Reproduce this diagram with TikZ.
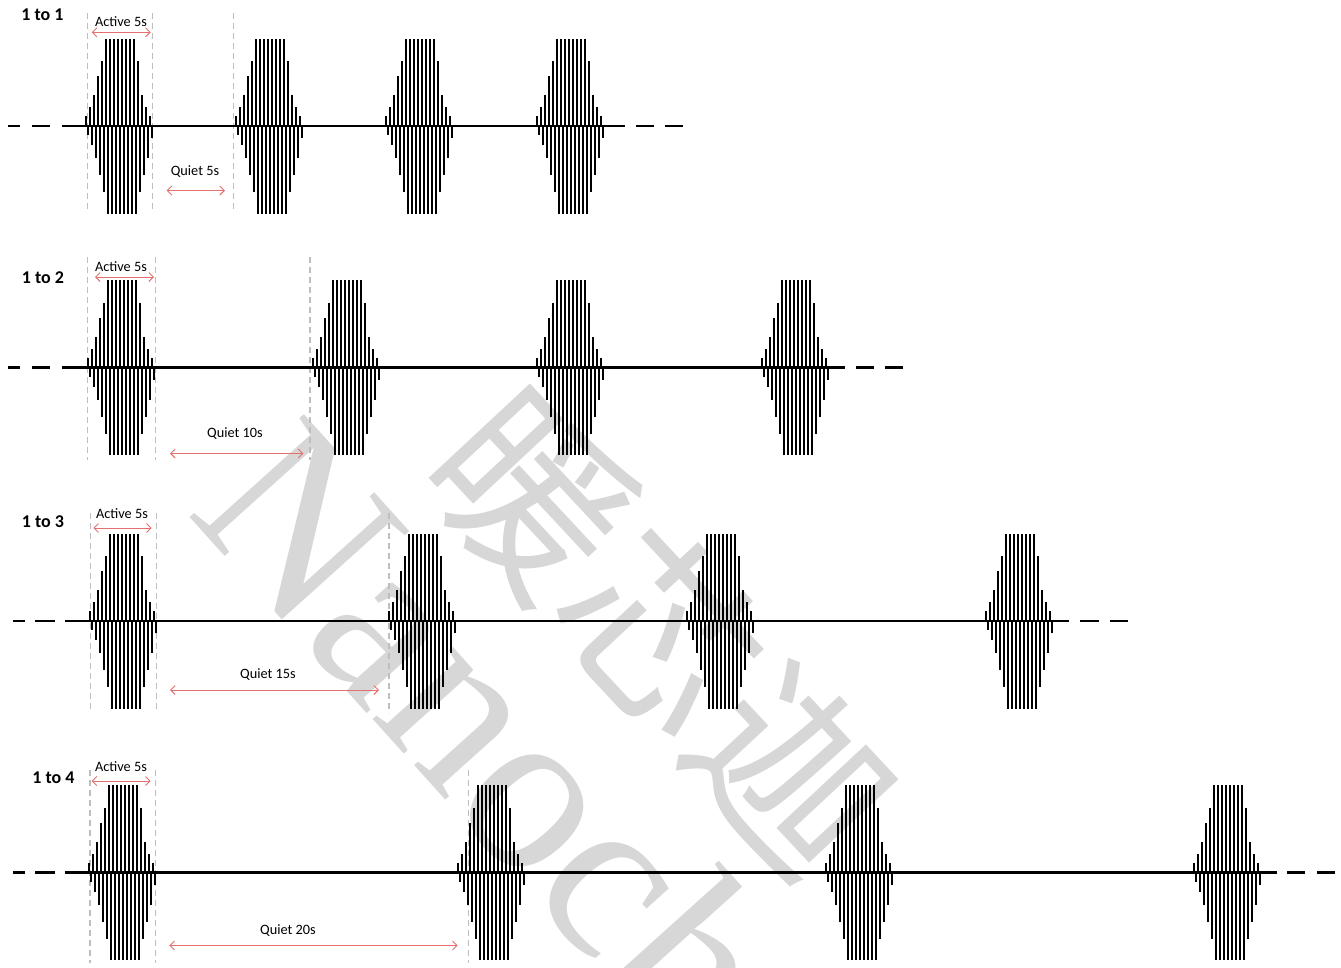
\documentclass[tikz,border=0pt]{standalone}
\usepackage{fontspec}
\setmainfont{Carlito}
\newfontfamily\wmserif{Liberation Serif}
\newfontfamily\wmcjk{Noto Sans CJK SC}
\usetikzlibrary{arrows.meta}
\definecolor{arrowred}{RGB}{228,112,112}
\definecolor{guidegray}{RGB}{190,190,190}
\definecolor{wmgray}{RGB}{215,215,215}
\tikzset{
  bar/.style={line width=2.7pt, black, line cap=butt},
  axisline/.style={line width=2.5pt, black},
  axisdash/.style={line width=2.7pt, black},
  guide/.style={line width=1.1pt, guidegray, dash pattern=on 6pt off 4pt},
  redarrow/.style={line width=0.9pt, arrowred, {Straight Barb[length=4.5pt,width=9pt]}-{Straight Barb[length=4.5pt,width=9pt]}},
  ratiolabel/.style={font=\fontsize{18}{20}\selectfont\bfseries, inner sep=0pt},
  durlabel/.style={font=\fontsize{14.3}{16}\selectfont, inner sep=0pt},
  watermark/.style={font=\fontsize{235}{235}\selectfont, text=wmgray, inner sep=0pt}
}
\newcommand{\pulseburst}[2]{%
  \foreach \a [count=\i from 0] in {10,19,31,50,65,87.5,87.5,87.5,87.5,87.5,87.5,87.5,87.5,65,31,19,10}
    {\draw[bar] ({#1+4*\i},#2) -- ++(0,-\a);}
  \foreach \a [count=\i from 0] in {9,19,32,49,66,87.5,87.5,87.5,87.5,87.5,87.5,87.5,87.5,66,49,32,12}
    {\draw[bar] ({#1+2+4*\i},#2) -- ++(0,\a);}
}
\newcommand{\axisrow}[5]{% y, left solid start, right solid end, left dash set, right dash set
  \draw[axisline] (#2,#1) -- (#3,#1);
  \foreach \s/\e in {#4} {\draw[axisdash] (\s,#1) -- (\e,#1);}
  \foreach \s/\e in {#5} {\draw[axisdash] (\s,#1) -- (\e,#1);}
}
\begin{document}
\begin{tikzpicture}[x=1pt,y=-1pt]
\useasboundingbox (0,0) rectangle (1341,967);
\fill[white] (0,0) rectangle (1341,967);

% watermark
\begin{scope}
\clip (0,0) rectangle (1341,967);
\node[watermark, rotate=-48] (wmlatin) at (490,730) {\wmserif Nanoch};
\node[watermark, font=\fontsize{190}{190}\selectfont, rotate=-47] (wmcjk) at (662,632) {\wmcjk 暖芯迦};
\end{scope}

% ---------------- Row 1 : 1 to 1 ----------------
\draw[guide] (87.3,13) -- (87.3,213);
\draw[guide] (152.7,13) -- (152.7,213);
\draw[guide] (233.3,13) -- (233.3,213);
\axisrow{126}{62}{625}{8/20,32/50}{636/654,665/683}
\foreach \x in {86,236,386,537} {\pulseburst{\x}{126}}
\node[ratiolabel] (r1) at (42.5,15) {1 to 1};
\node[durlabel] (act1) at (121,22) {Active 5s};
\node[durlabel] (qui1) at (195,172) {Quiet 5s};
\coordinate (act1l) at (91.7,32.3);
\coordinate (act1r) at (150.7,32.3);
\coordinate (qui1l) at (166.7,190.5);
\coordinate (qui1r) at (225,190.5);
\draw[redarrow] (act1l) -- (act1r);
\draw[redarrow] (qui1l) -- (qui1r);

% ---------------- Row 2 : 1 to 2 ----------------
\draw[guide] (87.3,257) -- (87.3,460);
\draw[guide] (155.7,257) -- (155.7,460);
\draw[guide] (310,257) -- (310,460);
\axisrow{367.5}{62}{845}{8/20,32/50}{856/874,885/903}
\foreach \x in {88,313,537,762} {\pulseburst{\x}{367.5}}
\node[ratiolabel] (r2) at (43,278) {1 to 2};
\node[durlabel] (act2) at (121,267) {Active 5s};
\node[durlabel] (qui2) at (235,434) {Quiet 10s};
\coordinate (act2l) at (95,277);
\coordinate (act2r) at (154,277);
\coordinate (qui2l) at (170,453.5);
\coordinate (qui2r) at (303.3,453.5);
\draw[redarrow] (act2l) -- (act2r);
\draw[redarrow] (qui2l) -- (qui2r);

% ---------------- Row 3 : 1 to 3 ----------------
\draw[guide] (90.7,513) -- (90.7,713);
\draw[guide] (156.7,513) -- (156.7,713);
\draw[guide] (389,513) -- (389,713);
\axisrow{621}{65}{1069}{13/25,35/55}{1080/1099,1110/1128}
\foreach \x in {90,389,687,986} {\pulseburst{\x}{621}}
\node[ratiolabel] (r3) at (43,522) {1 to 3};
\node[durlabel] (act3) at (122,514) {Active 5s};
\node[durlabel] (qui3) at (268,675) {Quiet 15s};
\coordinate (act3l) at (93.3,528);
\coordinate (act3r) at (151.7,528);
\coordinate (qui3l) at (170,690);
\coordinate (qui3r) at (379,690);
\draw[redarrow] (act3l) -- (act3r);
\draw[redarrow] (qui3l) -- (qui3r);

% ---------------- Row 4 : 1 to 4 ----------------
\draw[guide] (90,770) -- (90,963);
\draw[guide] (155.7,770) -- (155.7,963);
\draw[guide] (468.3,770) -- (468.3,963);
\axisrow{872.5}{65}{1277}{13/25,35/55}{1287/1305,1317/1335}
\foreach \x in {89,458,826,1194} {\pulseburst{\x}{872.5}}
\node[ratiolabel] (r4) at (53.5,778) {1 to 4};
\node[durlabel] (act4) at (121,767) {Active 5s};
\node[durlabel] (qui4) at (288,931) {Quiet 20s};
\coordinate (act4l) at (91.7,781);
\coordinate (act4r) at (150.7,781);
\coordinate (qui4l) at (169.3,945.5);
\coordinate (qui4r) at (457.7,945.5);
\draw[redarrow] (act4l) -- (act4r);
\draw[redarrow] (qui4l) -- (qui4r);
\end{tikzpicture}
\end{document}
